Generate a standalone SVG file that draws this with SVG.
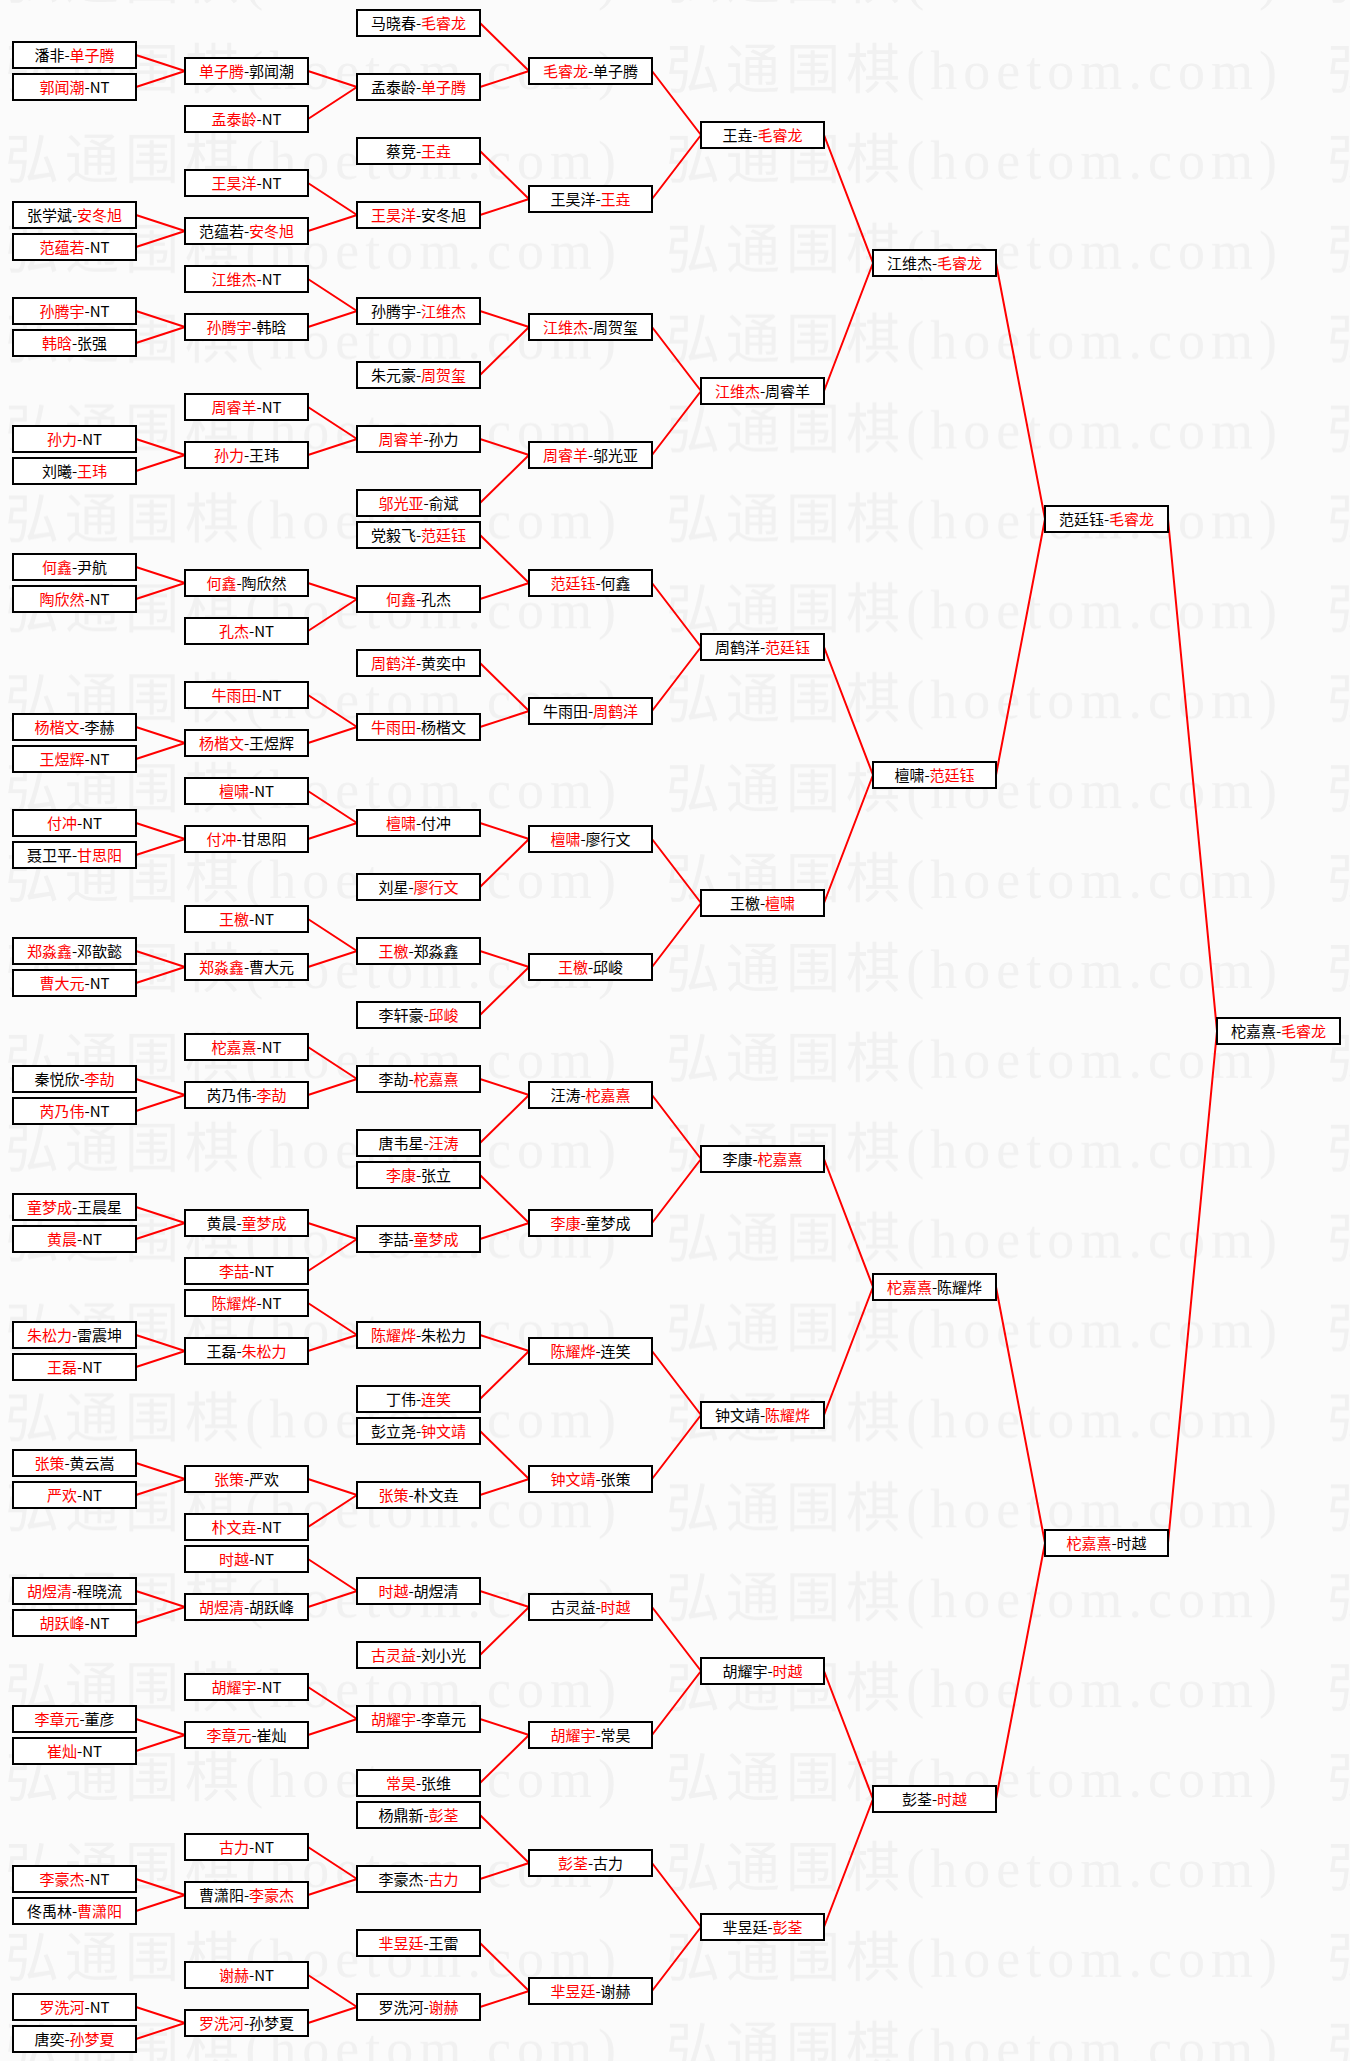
<svg xmlns="http://www.w3.org/2000/svg" width="1350" height="2061" viewBox="0 0 1350 2061">
<style>
.b{fill:#fff;stroke:#000;stroke-width:2}
.t{font-family:"Noto Sans CJK SC","Liberation Sans",sans-serif;font-size:15px;fill:#000;text-anchor:middle}
.r{fill:#ff0000}
.wm{font-family:"Liberation Serif","Noto Sans CJK SC",serif;font-size:54px;fill:#f1f1f1}
.c{fill:none;stroke:#ff0000;stroke-width:2}
</style>
<defs>
<pattern id="wmp" patternUnits="userSpaceOnUse" x="5" y="24" width="661" height="89.9">
<text class="wm" x="0" y="65" textLength="611" lengthAdjust="spacing">弘通围棋(hoetom.com)</text>
</pattern>
</defs>
<rect width="1350" height="2061" fill="#fbfbfb"/>
<rect id="watermark" width="1350" height="2061" fill="url(#wmp)"/>
<g id="connectors">
<path class="c" d="M136,55L185,71M136,87L185,71M136,215L185,231M136,247L185,231M136,311L185,327M136,343L185,327M136,439L185,455M136,471L185,455M136,567L185,583M136,599L185,583M136,727L185,743M136,759L185,743M136,823L185,839M136,855L185,839M136,951L185,967M136,983L185,967M136,1079L185,1095M136,1111L185,1095M136,1207L185,1223M136,1239L185,1223M136,1335L185,1351M136,1367L185,1351M136,1463L185,1479M136,1495L185,1479M136,1591L185,1607M136,1623L185,1607M136,1719L185,1735M136,1751L185,1735M136,1879L185,1895M136,1911L185,1895M136,2007L185,2023M136,2039L185,2023"/>
<path class="c" d="M308,71L357,87M308,119L357,87M308,183L357,215M308,231L357,215M308,279L357,311M308,327L357,311M308,407L357,439M308,455L357,439M308,583L357,599M308,631L357,599M308,695L357,727M308,743L357,727M308,791L357,823M308,839L357,823M308,919L357,951M308,967L357,951M308,1047L357,1079M308,1095L357,1079M308,1223L357,1239M308,1271L357,1239M308,1303L357,1335M308,1351L357,1335M308,1479L357,1495M308,1527L357,1495M308,1559L357,1591M308,1607L357,1591M308,1687L357,1719M308,1735L357,1719M308,1847L357,1879M308,1895L357,1879M308,1975L357,2007M308,2023L357,2007"/>
<path class="c" d="M480,23L529,71M480,87L529,71M480,151L529,199M480,215L529,199M480,311L529,327M480,375L529,327M480,439L529,455M480,503L529,455M480,535L529,583M480,599L529,583M480,663L529,711M480,727L529,711M480,823L529,839M480,887L529,839M480,951L529,967M480,1015L529,967M480,1079L529,1095M480,1143L529,1095M480,1175L529,1223M480,1239L529,1223M480,1335L529,1351M480,1399L529,1351M480,1431L529,1479M480,1495L529,1479M480,1591L529,1607M480,1655L529,1607M480,1719L529,1735M480,1783L529,1735M480,1815L529,1863M480,1879L529,1863M480,1943L529,1991M480,2007L529,1991"/>
<path class="c" d="M652,71L701,135M652,199L701,135M652,327L701,391M652,455L701,391M652,583L701,647M652,711L701,647M652,839L701,903M652,967L701,903M652,1095L701,1159M652,1223L701,1159M652,1351L701,1415M652,1479L701,1415M652,1607L701,1671M652,1735L701,1671M652,1863L701,1927M652,1991L701,1927"/>
<path class="c" d="M824,135L873,263M824,391L873,263M824,647L873,775M824,903L873,775M824,1159L873,1287M824,1415L873,1287M824,1671L873,1799M824,1927L873,1799"/>
<path class="c" d="M996,263L1045,519M996,775L1045,519M996,1287L1045,1543M996,1799L1045,1543"/>
<path class="c" d="M1168,519L1217,1031M1168,1543L1217,1031"/>
</g>
<g id="round1">
<g id="n0_2" transform="translate(13,42)"><rect class="b" width="123" height="26"/><text class="t" x="61.5" y="18.5">潘非-<tspan class="r">单子腾</tspan></text></g>
<g id="n0_4" transform="translate(13,74)"><rect class="b" width="123" height="26"/><text class="t" x="61.5" y="18.5"><tspan class="r">郭闻潮</tspan>-NT</text></g>
<g id="n0_12" transform="translate(13,202)"><rect class="b" width="123" height="26"/><text class="t" x="61.5" y="18.5">张学斌-<tspan class="r">安冬旭</tspan></text></g>
<g id="n0_14" transform="translate(13,234)"><rect class="b" width="123" height="26"/><text class="t" x="61.5" y="18.5"><tspan class="r">范蕴若</tspan>-NT</text></g>
<g id="n0_18" transform="translate(13,298)"><rect class="b" width="123" height="26"/><text class="t" x="61.5" y="18.5"><tspan class="r">孙腾宇</tspan>-NT</text></g>
<g id="n0_20" transform="translate(13,330)"><rect class="b" width="123" height="26"/><text class="t" x="61.5" y="18.5"><tspan class="r">韩晗</tspan>-张强</text></g>
<g id="n0_26" transform="translate(13,426)"><rect class="b" width="123" height="26"/><text class="t" x="61.5" y="18.5"><tspan class="r">孙力</tspan>-NT</text></g>
<g id="n0_28" transform="translate(13,458)"><rect class="b" width="123" height="26"/><text class="t" x="61.5" y="18.5">刘曦-<tspan class="r">王玮</tspan></text></g>
<g id="n0_34" transform="translate(13,554)"><rect class="b" width="123" height="26"/><text class="t" x="61.5" y="18.5"><tspan class="r">何鑫</tspan>-尹航</text></g>
<g id="n0_36" transform="translate(13,586)"><rect class="b" width="123" height="26"/><text class="t" x="61.5" y="18.5"><tspan class="r">陶欣然</tspan>-NT</text></g>
<g id="n0_44" transform="translate(13,714)"><rect class="b" width="123" height="26"/><text class="t" x="61.5" y="18.5"><tspan class="r">杨楷文</tspan>-李赫</text></g>
<g id="n0_46" transform="translate(13,746)"><rect class="b" width="123" height="26"/><text class="t" x="61.5" y="18.5"><tspan class="r">王煜辉</tspan>-NT</text></g>
<g id="n0_50" transform="translate(13,810)"><rect class="b" width="123" height="26"/><text class="t" x="61.5" y="18.5"><tspan class="r">付冲</tspan>-NT</text></g>
<g id="n0_52" transform="translate(13,842)"><rect class="b" width="123" height="26"/><text class="t" x="61.5" y="18.5">聂卫平-<tspan class="r">甘思阳</tspan></text></g>
<g id="n0_58" transform="translate(13,938)"><rect class="b" width="123" height="26"/><text class="t" x="61.5" y="18.5"><tspan class="r">郑淼鑫</tspan>-邓歆懿</text></g>
<g id="n0_60" transform="translate(13,970)"><rect class="b" width="123" height="26"/><text class="t" x="61.5" y="18.5"><tspan class="r">曹大元</tspan>-NT</text></g>
<g id="n0_66" transform="translate(13,1066)"><rect class="b" width="123" height="26"/><text class="t" x="61.5" y="18.5">秦悦欣-<tspan class="r">李劼</tspan></text></g>
<g id="n0_68" transform="translate(13,1098)"><rect class="b" width="123" height="26"/><text class="t" x="61.5" y="18.5"><tspan class="r">芮乃伟</tspan>-NT</text></g>
<g id="n0_74" transform="translate(13,1194)"><rect class="b" width="123" height="26"/><text class="t" x="61.5" y="18.5"><tspan class="r">童梦成</tspan>-王晨星</text></g>
<g id="n0_76" transform="translate(13,1226)"><rect class="b" width="123" height="26"/><text class="t" x="61.5" y="18.5"><tspan class="r">黄晨</tspan>-NT</text></g>
<g id="n0_82" transform="translate(13,1322)"><rect class="b" width="123" height="26"/><text class="t" x="61.5" y="18.5"><tspan class="r">朱松力</tspan>-雷震坤</text></g>
<g id="n0_84" transform="translate(13,1354)"><rect class="b" width="123" height="26"/><text class="t" x="61.5" y="18.5"><tspan class="r">王磊</tspan>-NT</text></g>
<g id="n0_90" transform="translate(13,1450)"><rect class="b" width="123" height="26"/><text class="t" x="61.5" y="18.5"><tspan class="r">张策</tspan>-黄云嵩</text></g>
<g id="n0_92" transform="translate(13,1482)"><rect class="b" width="123" height="26"/><text class="t" x="61.5" y="18.5"><tspan class="r">严欢</tspan>-NT</text></g>
<g id="n0_98" transform="translate(13,1578)"><rect class="b" width="123" height="26"/><text class="t" x="61.5" y="18.5"><tspan class="r">胡煜清</tspan>-程晓流</text></g>
<g id="n0_100" transform="translate(13,1610)"><rect class="b" width="123" height="26"/><text class="t" x="61.5" y="18.5"><tspan class="r">胡跃峰</tspan>-NT</text></g>
<g id="n0_106" transform="translate(13,1706)"><rect class="b" width="123" height="26"/><text class="t" x="61.5" y="18.5"><tspan class="r">李章元</tspan>-董彦</text></g>
<g id="n0_108" transform="translate(13,1738)"><rect class="b" width="123" height="26"/><text class="t" x="61.5" y="18.5"><tspan class="r">崔灿</tspan>-NT</text></g>
<g id="n0_116" transform="translate(13,1866)"><rect class="b" width="123" height="26"/><text class="t" x="61.5" y="18.5"><tspan class="r">李豪杰</tspan>-NT</text></g>
<g id="n0_118" transform="translate(13,1898)"><rect class="b" width="123" height="26"/><text class="t" x="61.5" y="18.5">佟禹林-<tspan class="r">曹潇阳</tspan></text></g>
<g id="n0_124" transform="translate(13,1994)"><rect class="b" width="123" height="26"/><text class="t" x="61.5" y="18.5"><tspan class="r">罗洗河</tspan>-NT</text></g>
<g id="n0_126" transform="translate(13,2026)"><rect class="b" width="123" height="26"/><text class="t" x="61.5" y="18.5">唐奕-<tspan class="r">孙梦夏</tspan></text></g>
</g>
<g id="round2">
<g id="n1_3" transform="translate(185,58)"><rect class="b" width="123" height="26"/><text class="t" x="61.5" y="18.5"><tspan class="r">单子腾</tspan>-郭闻潮</text></g>
<g id="n1_6" transform="translate(185,106)"><rect class="b" width="123" height="26"/><text class="t" x="61.5" y="18.5"><tspan class="r">孟泰龄</tspan>-NT</text></g>
<g id="n1_10" transform="translate(185,170)"><rect class="b" width="123" height="26"/><text class="t" x="61.5" y="18.5"><tspan class="r">王昊洋</tspan>-NT</text></g>
<g id="n1_13" transform="translate(185,218)"><rect class="b" width="123" height="26"/><text class="t" x="61.5" y="18.5">范蕴若-<tspan class="r">安冬旭</tspan></text></g>
<g id="n1_16" transform="translate(185,266)"><rect class="b" width="123" height="26"/><text class="t" x="61.5" y="18.5"><tspan class="r">江维杰</tspan>-NT</text></g>
<g id="n1_19" transform="translate(185,314)"><rect class="b" width="123" height="26"/><text class="t" x="61.5" y="18.5"><tspan class="r">孙腾宇</tspan>-韩晗</text></g>
<g id="n1_24" transform="translate(185,394)"><rect class="b" width="123" height="26"/><text class="t" x="61.5" y="18.5"><tspan class="r">周睿羊</tspan>-NT</text></g>
<g id="n1_27" transform="translate(185,442)"><rect class="b" width="123" height="26"/><text class="t" x="61.5" y="18.5"><tspan class="r">孙力</tspan>-王玮</text></g>
<g id="n1_35" transform="translate(185,570)"><rect class="b" width="123" height="26"/><text class="t" x="61.5" y="18.5"><tspan class="r">何鑫</tspan>-陶欣然</text></g>
<g id="n1_38" transform="translate(185,618)"><rect class="b" width="123" height="26"/><text class="t" x="61.5" y="18.5"><tspan class="r">孔杰</tspan>-NT</text></g>
<g id="n1_42" transform="translate(185,682)"><rect class="b" width="123" height="26"/><text class="t" x="61.5" y="18.5"><tspan class="r">牛雨田</tspan>-NT</text></g>
<g id="n1_45" transform="translate(185,730)"><rect class="b" width="123" height="26"/><text class="t" x="61.5" y="18.5"><tspan class="r">杨楷文</tspan>-王煜辉</text></g>
<g id="n1_48" transform="translate(185,778)"><rect class="b" width="123" height="26"/><text class="t" x="61.5" y="18.5"><tspan class="r">檀啸</tspan>-NT</text></g>
<g id="n1_51" transform="translate(185,826)"><rect class="b" width="123" height="26"/><text class="t" x="61.5" y="18.5"><tspan class="r">付冲</tspan>-甘思阳</text></g>
<g id="n1_56" transform="translate(185,906)"><rect class="b" width="123" height="26"/><text class="t" x="61.5" y="18.5"><tspan class="r">王檄</tspan>-NT</text></g>
<g id="n1_59" transform="translate(185,954)"><rect class="b" width="123" height="26"/><text class="t" x="61.5" y="18.5"><tspan class="r">郑淼鑫</tspan>-曹大元</text></g>
<g id="n1_64" transform="translate(185,1034)"><rect class="b" width="123" height="26"/><text class="t" x="61.5" y="18.5"><tspan class="r">柁嘉熹</tspan>-NT</text></g>
<g id="n1_67" transform="translate(185,1082)"><rect class="b" width="123" height="26"/><text class="t" x="61.5" y="18.5">芮乃伟-<tspan class="r">李劼</tspan></text></g>
<g id="n1_75" transform="translate(185,1210)"><rect class="b" width="123" height="26"/><text class="t" x="61.5" y="18.5">黄晨-<tspan class="r">童梦成</tspan></text></g>
<g id="n1_78" transform="translate(185,1258)"><rect class="b" width="123" height="26"/><text class="t" x="61.5" y="18.5"><tspan class="r">李喆</tspan>-NT</text></g>
<g id="n1_80" transform="translate(185,1290)"><rect class="b" width="123" height="26"/><text class="t" x="61.5" y="18.5"><tspan class="r">陈耀烨</tspan>-NT</text></g>
<g id="n1_83" transform="translate(185,1338)"><rect class="b" width="123" height="26"/><text class="t" x="61.5" y="18.5">王磊-<tspan class="r">朱松力</tspan></text></g>
<g id="n1_91" transform="translate(185,1466)"><rect class="b" width="123" height="26"/><text class="t" x="61.5" y="18.5"><tspan class="r">张策</tspan>-严欢</text></g>
<g id="n1_94" transform="translate(185,1514)"><rect class="b" width="123" height="26"/><text class="t" x="61.5" y="18.5"><tspan class="r">朴文垚</tspan>-NT</text></g>
<g id="n1_96" transform="translate(185,1546)"><rect class="b" width="123" height="26"/><text class="t" x="61.5" y="18.5"><tspan class="r">时越</tspan>-NT</text></g>
<g id="n1_99" transform="translate(185,1594)"><rect class="b" width="123" height="26"/><text class="t" x="61.5" y="18.5"><tspan class="r">胡煜清</tspan>-胡跃峰</text></g>
<g id="n1_104" transform="translate(185,1674)"><rect class="b" width="123" height="26"/><text class="t" x="61.5" y="18.5"><tspan class="r">胡耀宇</tspan>-NT</text></g>
<g id="n1_107" transform="translate(185,1722)"><rect class="b" width="123" height="26"/><text class="t" x="61.5" y="18.5"><tspan class="r">李章元</tspan>-崔灿</text></g>
<g id="n1_114" transform="translate(185,1834)"><rect class="b" width="123" height="26"/><text class="t" x="61.5" y="18.5"><tspan class="r">古力</tspan>-NT</text></g>
<g id="n1_117" transform="translate(185,1882)"><rect class="b" width="123" height="26"/><text class="t" x="61.5" y="18.5">曹潇阳-<tspan class="r">李豪杰</tspan></text></g>
<g id="n1_122" transform="translate(185,1962)"><rect class="b" width="123" height="26"/><text class="t" x="61.5" y="18.5"><tspan class="r">谢赫</tspan>-NT</text></g>
<g id="n1_125" transform="translate(185,2010)"><rect class="b" width="123" height="26"/><text class="t" x="61.5" y="18.5"><tspan class="r">罗洗河</tspan>-孙梦夏</text></g>
</g>
<g id="round3">
<g id="n2_0" transform="translate(357,10)"><rect class="b" width="123" height="26"/><text class="t" x="61.5" y="18.5">马晓春-<tspan class="r">毛睿龙</tspan></text></g>
<g id="n2_4" transform="translate(357,74)"><rect class="b" width="123" height="26"/><text class="t" x="61.5" y="18.5">孟泰龄-<tspan class="r">单子腾</tspan></text></g>
<g id="n2_8" transform="translate(357,138)"><rect class="b" width="123" height="26"/><text class="t" x="61.5" y="18.5">蔡竞-<tspan class="r">王垚</tspan></text></g>
<g id="n2_12" transform="translate(357,202)"><rect class="b" width="123" height="26"/><text class="t" x="61.5" y="18.5"><tspan class="r">王昊洋</tspan>-安冬旭</text></g>
<g id="n2_18" transform="translate(357,298)"><rect class="b" width="123" height="26"/><text class="t" x="61.5" y="18.5">孙腾宇-<tspan class="r">江维杰</tspan></text></g>
<g id="n2_22" transform="translate(357,362)"><rect class="b" width="123" height="26"/><text class="t" x="61.5" y="18.5">朱元豪-<tspan class="r">周贺玺</tspan></text></g>
<g id="n2_26" transform="translate(357,426)"><rect class="b" width="123" height="26"/><text class="t" x="61.5" y="18.5"><tspan class="r">周睿羊</tspan>-孙力</text></g>
<g id="n2_30" transform="translate(357,490)"><rect class="b" width="123" height="26"/><text class="t" x="61.5" y="18.5"><tspan class="r">邬光亚</tspan>-俞斌</text></g>
<g id="n2_32" transform="translate(357,522)"><rect class="b" width="123" height="26"/><text class="t" x="61.5" y="18.5">党毅飞-<tspan class="r">范廷钰</tspan></text></g>
<g id="n2_36" transform="translate(357,586)"><rect class="b" width="123" height="26"/><text class="t" x="61.5" y="18.5"><tspan class="r">何鑫</tspan>-孔杰</text></g>
<g id="n2_40" transform="translate(357,650)"><rect class="b" width="123" height="26"/><text class="t" x="61.5" y="18.5"><tspan class="r">周鹤洋</tspan>-黄奕中</text></g>
<g id="n2_44" transform="translate(357,714)"><rect class="b" width="123" height="26"/><text class="t" x="61.5" y="18.5"><tspan class="r">牛雨田</tspan>-杨楷文</text></g>
<g id="n2_50" transform="translate(357,810)"><rect class="b" width="123" height="26"/><text class="t" x="61.5" y="18.5"><tspan class="r">檀啸</tspan>-付冲</text></g>
<g id="n2_54" transform="translate(357,874)"><rect class="b" width="123" height="26"/><text class="t" x="61.5" y="18.5">刘星-<tspan class="r">廖行文</tspan></text></g>
<g id="n2_58" transform="translate(357,938)"><rect class="b" width="123" height="26"/><text class="t" x="61.5" y="18.5"><tspan class="r">王檄</tspan>-郑淼鑫</text></g>
<g id="n2_62" transform="translate(357,1002)"><rect class="b" width="123" height="26"/><text class="t" x="61.5" y="18.5">李轩豪-<tspan class="r">邱峻</tspan></text></g>
<g id="n2_66" transform="translate(357,1066)"><rect class="b" width="123" height="26"/><text class="t" x="61.5" y="18.5">李劼-<tspan class="r">柁嘉熹</tspan></text></g>
<g id="n2_70" transform="translate(357,1130)"><rect class="b" width="123" height="26"/><text class="t" x="61.5" y="18.5">唐韦星-<tspan class="r">汪涛</tspan></text></g>
<g id="n2_72" transform="translate(357,1162)"><rect class="b" width="123" height="26"/><text class="t" x="61.5" y="18.5"><tspan class="r">李康</tspan>-张立</text></g>
<g id="n2_76" transform="translate(357,1226)"><rect class="b" width="123" height="26"/><text class="t" x="61.5" y="18.5">李喆-<tspan class="r">童梦成</tspan></text></g>
<g id="n2_82" transform="translate(357,1322)"><rect class="b" width="123" height="26"/><text class="t" x="61.5" y="18.5"><tspan class="r">陈耀烨</tspan>-朱松力</text></g>
<g id="n2_86" transform="translate(357,1386)"><rect class="b" width="123" height="26"/><text class="t" x="61.5" y="18.5">丁伟-<tspan class="r">连笑</tspan></text></g>
<g id="n2_88" transform="translate(357,1418)"><rect class="b" width="123" height="26"/><text class="t" x="61.5" y="18.5">彭立尧-<tspan class="r">钟文靖</tspan></text></g>
<g id="n2_92" transform="translate(357,1482)"><rect class="b" width="123" height="26"/><text class="t" x="61.5" y="18.5"><tspan class="r">张策</tspan>-朴文垚</text></g>
<g id="n2_98" transform="translate(357,1578)"><rect class="b" width="123" height="26"/><text class="t" x="61.5" y="18.5"><tspan class="r">时越</tspan>-胡煜清</text></g>
<g id="n2_102" transform="translate(357,1642)"><rect class="b" width="123" height="26"/><text class="t" x="61.5" y="18.5"><tspan class="r">古灵益</tspan>-刘小光</text></g>
<g id="n2_106" transform="translate(357,1706)"><rect class="b" width="123" height="26"/><text class="t" x="61.5" y="18.5"><tspan class="r">胡耀宇</tspan>-李章元</text></g>
<g id="n2_110" transform="translate(357,1770)"><rect class="b" width="123" height="26"/><text class="t" x="61.5" y="18.5"><tspan class="r">常昊</tspan>-张维</text></g>
<g id="n2_112" transform="translate(357,1802)"><rect class="b" width="123" height="26"/><text class="t" x="61.5" y="18.5">杨鼎新-<tspan class="r">彭荃</tspan></text></g>
<g id="n2_116" transform="translate(357,1866)"><rect class="b" width="123" height="26"/><text class="t" x="61.5" y="18.5">李豪杰-<tspan class="r">古力</tspan></text></g>
<g id="n2_120" transform="translate(357,1930)"><rect class="b" width="123" height="26"/><text class="t" x="61.5" y="18.5"><tspan class="r">芈昱廷</tspan>-王雷</text></g>
<g id="n2_124" transform="translate(357,1994)"><rect class="b" width="123" height="26"/><text class="t" x="61.5" y="18.5">罗洗河-<tspan class="r">谢赫</tspan></text></g>
</g>
<g id="round4">
<g id="n3_3" transform="translate(529,58)"><rect class="b" width="123" height="26"/><text class="t" x="61.5" y="18.5"><tspan class="r">毛睿龙</tspan>-单子腾</text></g>
<g id="n3_11" transform="translate(529,186)"><rect class="b" width="123" height="26"/><text class="t" x="61.5" y="18.5">王昊洋-<tspan class="r">王垚</tspan></text></g>
<g id="n3_19" transform="translate(529,314)"><rect class="b" width="123" height="26"/><text class="t" x="61.5" y="18.5"><tspan class="r">江维杰</tspan>-周贺玺</text></g>
<g id="n3_27" transform="translate(529,442)"><rect class="b" width="123" height="26"/><text class="t" x="61.5" y="18.5"><tspan class="r">周睿羊</tspan>-邬光亚</text></g>
<g id="n3_35" transform="translate(529,570)"><rect class="b" width="123" height="26"/><text class="t" x="61.5" y="18.5"><tspan class="r">范廷钰</tspan>-何鑫</text></g>
<g id="n3_43" transform="translate(529,698)"><rect class="b" width="123" height="26"/><text class="t" x="61.5" y="18.5">牛雨田-<tspan class="r">周鹤洋</tspan></text></g>
<g id="n3_51" transform="translate(529,826)"><rect class="b" width="123" height="26"/><text class="t" x="61.5" y="18.5"><tspan class="r">檀啸</tspan>-廖行文</text></g>
<g id="n3_59" transform="translate(529,954)"><rect class="b" width="123" height="26"/><text class="t" x="61.5" y="18.5"><tspan class="r">王檄</tspan>-邱峻</text></g>
<g id="n3_67" transform="translate(529,1082)"><rect class="b" width="123" height="26"/><text class="t" x="61.5" y="18.5">汪涛-<tspan class="r">柁嘉熹</tspan></text></g>
<g id="n3_75" transform="translate(529,1210)"><rect class="b" width="123" height="26"/><text class="t" x="61.5" y="18.5"><tspan class="r">李康</tspan>-童梦成</text></g>
<g id="n3_83" transform="translate(529,1338)"><rect class="b" width="123" height="26"/><text class="t" x="61.5" y="18.5"><tspan class="r">陈耀烨</tspan>-连笑</text></g>
<g id="n3_91" transform="translate(529,1466)"><rect class="b" width="123" height="26"/><text class="t" x="61.5" y="18.5"><tspan class="r">钟文靖</tspan>-张策</text></g>
<g id="n3_99" transform="translate(529,1594)"><rect class="b" width="123" height="26"/><text class="t" x="61.5" y="18.5">古灵益-<tspan class="r">时越</tspan></text></g>
<g id="n3_107" transform="translate(529,1722)"><rect class="b" width="123" height="26"/><text class="t" x="61.5" y="18.5"><tspan class="r">胡耀宇</tspan>-常昊</text></g>
<g id="n3_115" transform="translate(529,1850)"><rect class="b" width="123" height="26"/><text class="t" x="61.5" y="18.5"><tspan class="r">彭荃</tspan>-古力</text></g>
<g id="n3_123" transform="translate(529,1978)"><rect class="b" width="123" height="26"/><text class="t" x="61.5" y="18.5"><tspan class="r">芈昱廷</tspan>-谢赫</text></g>
</g>
<g id="round5">
<g id="n4_7" transform="translate(701,122)"><rect class="b" width="123" height="26"/><text class="t" x="61.5" y="18.5">王垚-<tspan class="r">毛睿龙</tspan></text></g>
<g id="n4_23" transform="translate(701,378)"><rect class="b" width="123" height="26"/><text class="t" x="61.5" y="18.5"><tspan class="r">江维杰</tspan>-周睿羊</text></g>
<g id="n4_39" transform="translate(701,634)"><rect class="b" width="123" height="26"/><text class="t" x="61.5" y="18.5">周鹤洋-<tspan class="r">范廷钰</tspan></text></g>
<g id="n4_55" transform="translate(701,890)"><rect class="b" width="123" height="26"/><text class="t" x="61.5" y="18.5">王檄-<tspan class="r">檀啸</tspan></text></g>
<g id="n4_71" transform="translate(701,1146)"><rect class="b" width="123" height="26"/><text class="t" x="61.5" y="18.5">李康-<tspan class="r">柁嘉熹</tspan></text></g>
<g id="n4_87" transform="translate(701,1402)"><rect class="b" width="123" height="26"/><text class="t" x="61.5" y="18.5">钟文靖-<tspan class="r">陈耀烨</tspan></text></g>
<g id="n4_103" transform="translate(701,1658)"><rect class="b" width="123" height="26"/><text class="t" x="61.5" y="18.5">胡耀宇-<tspan class="r">时越</tspan></text></g>
<g id="n4_119" transform="translate(701,1914)"><rect class="b" width="123" height="26"/><text class="t" x="61.5" y="18.5">芈昱廷-<tspan class="r">彭荃</tspan></text></g>
</g>
<g id="round6">
<g id="n5_15" transform="translate(873,250)"><rect class="b" width="123" height="26"/><text class="t" x="61.5" y="18.5">江维杰-<tspan class="r">毛睿龙</tspan></text></g>
<g id="n5_47" transform="translate(873,762)"><rect class="b" width="123" height="26"/><text class="t" x="61.5" y="18.5">檀啸-<tspan class="r">范廷钰</tspan></text></g>
<g id="n5_79" transform="translate(873,1274)"><rect class="b" width="123" height="26"/><text class="t" x="61.5" y="18.5"><tspan class="r">柁嘉熹</tspan>-陈耀烨</text></g>
<g id="n5_111" transform="translate(873,1786)"><rect class="b" width="123" height="26"/><text class="t" x="61.5" y="18.5">彭荃-<tspan class="r">时越</tspan></text></g>
</g>
<g id="round7">
<g id="n6_31" transform="translate(1045,506)"><rect class="b" width="123" height="26"/><text class="t" x="61.5" y="18.5">范廷钰-<tspan class="r">毛睿龙</tspan></text></g>
<g id="n6_95" transform="translate(1045,1530)"><rect class="b" width="123" height="26"/><text class="t" x="61.5" y="18.5"><tspan class="r">柁嘉熹</tspan>-时越</text></g>
</g>
<g id="final">
<g id="n7_63" transform="translate(1217,1018)"><rect class="b" width="123" height="26"/><text class="t" x="61.5" y="18.5">柁嘉熹-<tspan class="r">毛睿龙</tspan></text></g>
</g>
</svg>
